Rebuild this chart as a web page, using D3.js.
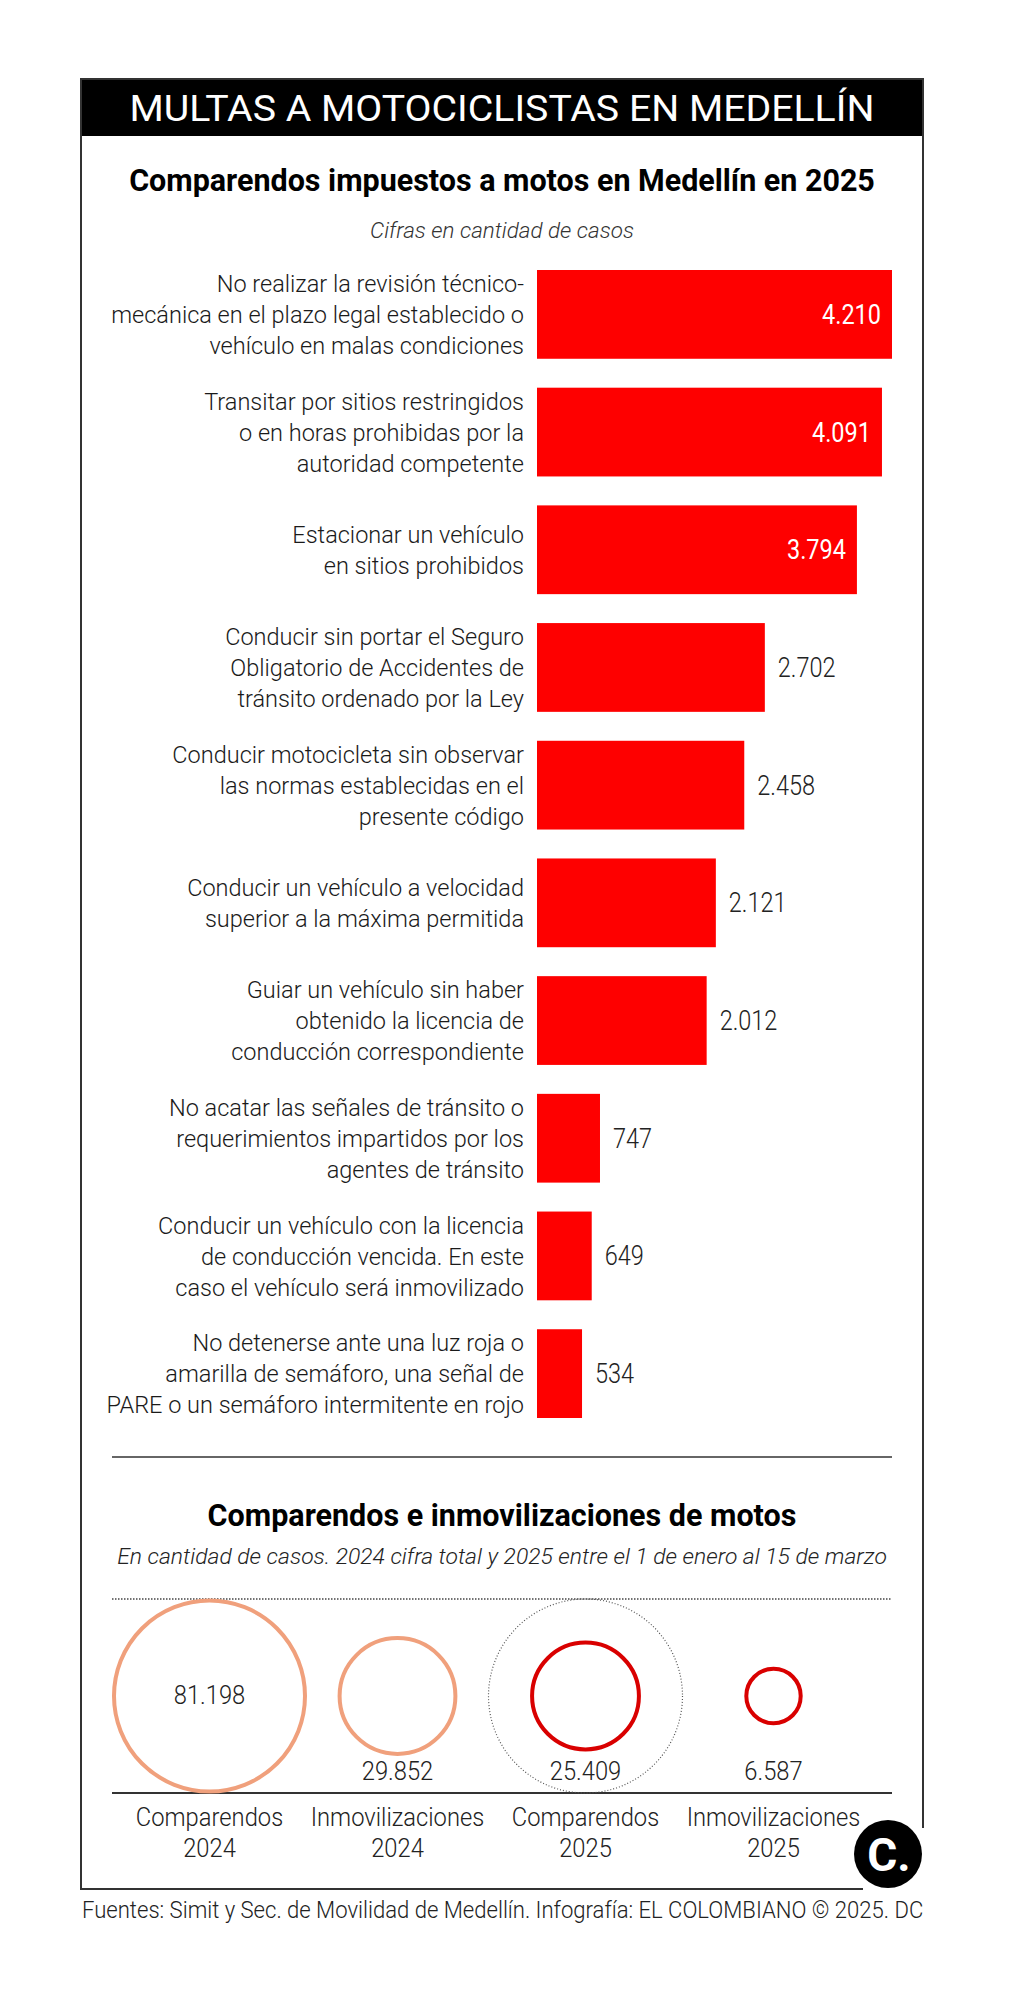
<!DOCTYPE html>
<html>
<head>
<meta charset="utf-8">
<script src="https://cdn.jsdelivr.net/npm/d3@7"></script>
<style>
  html, body { margin: 0; padding: 0; background: #fff; }
  svg { display: block; }
  text { font-family: Roboto, "Noto Sans", sans-serif; }
</style>
</head>
<body>
<script>
// ---------- DATA ----------
const categories = [
  ["No realizar la revisión técnico-", "mecánica en el plazo legal establecido o", "vehículo en malas condiciones"],
  ["Transitar por sitios restringidos", "o en horas prohibidas por la", "autoridad competente"],
  ["Estacionar un vehículo", "en sitios prohibidos"],
  ["Conducir sin portar el Seguro", "Obligatorio de Accidentes de", "tránsito ordenado por la Ley"],
  ["Conducir motocicleta sin observar", "las normas establecidas en el", "presente código"],
  ["Conducir un vehículo a velocidad", "superior a la máxima permitida"],
  ["Guiar un vehículo sin haber", "obtenido la licencia de", "conducción correspondiente"],
  ["No acatar las señales de tránsito o", "requerimientos impartidos por los", "agentes de tránsito"],
  ["Conducir un vehículo con la licencia", "de conducción vencida. En este", "caso el vehículo será inmovilizado"],
  ["No detenerse ante una luz roja o", "amarilla de semáforo, una señal de", "PARE o un semáforo intermitente en rojo"]
];
const values = [4210, 4091, 3794, 2702, 2458, 2121, 2012, 747, 649, 534];

const circleLabels = [["Comparendos", "2024"], ["Inmovilizaciones", "2024"], ["Comparendos", "2025"], ["Inmovilizaciones", "2025"]];
const circleValues = [81198, 29852, 25409, 6587];
const circleYears = ["2024", "2024", "2025", "2025"];

const headerText = "MULTAS A MOTOCICLISTAS EN MEDELLÍN";
const title1 = "Comparendos impuestos a motos en Medellín en 2025";
const subtitle1 = "Cifras en cantidad de casos";
const title2 = "Comparendos e inmovilizaciones de motos";
const subtitle2 = "En cantidad de casos. 2024 cifra total y 2025 entre el 1 de enero al 15 de marzo";
const footerText = "Fuentes: Simit y Sec. de Movilidad de Medellín. Infografía: EL COLOMBIANO © 2025. DC";

// ---------- SETUP ----------
const W = 1010, H = 2000;
const svg = d3.select("body").append("svg").attr("width", W).attr("height", H);

const loc = d3.formatLocale({ decimal: ",", thousands: ".", grouping: [3], currency: ["$", ""] });
const fmt = loc.format(",d");

// text helper: places text, and horizontally fits it to a target width (condensed type)
function txt(g, s, x, y, o) {
  const t = g.append("text")
    .attr("text-anchor", o.anchor || "middle")
    .attr("font-size", o.size)
    .attr("font-weight", o.weight || 300)
    .attr("font-style", o.italic ? "italic" : "normal")
    .attr("fill", o.fill || "#222")
    .text(s);
  let sx = o.sx || 1;
  if (o.width) {
    const L = t.node().getComputedTextLength();
    sx = o.width / L;
  }
  t.attr("transform", `translate(${x},${y}) scale(${sx},1)`);
  return t;
}

// ---------- FRAME ----------
const frame = { l: 81, t: 79, r: 923, b: 1889 };
svg.append("rect").attr("x", frame.l).attr("y", frame.t)
  .attr("width", frame.r - frame.l).attr("height", 57).attr("fill", "#000");
svg.append("path")
  .attr("d", `M${frame.r},1828 V${frame.t} H${frame.l} V${frame.b} H863`)
  .attr("fill", "none").attr("stroke", "#333").attr("stroke-width", 2);

const cx = (frame.l + frame.r) / 2;
txt(svg, headerText, cx, 121, { size: 37, weight: 400, fill: "#fff", width: 745 });
txt(svg, title1, cx, 191, { size: 32, weight: 700, fill: "#000", width: 746 });
txt(svg, subtitle1, cx, 238, { size: 22, weight: 300, italic: true, fill: "#333", width: 264 });

// ---------- BAR CHART ----------
const barLeft = 537;
const x = d3.scaleLinear().domain([0, d3.max(values)]).range([0, 355]);
const y = d3.scaleBand().domain(d3.range(values.length)).range([270, 1418]).paddingInner(0.2458).paddingOuter(0);

const bars = svg.append("g").attr("transform", `translate(${barLeft},0)`);
bars.selectAll("rect").data(values).join("rect")
  .attr("x", 0)
  .attr("y", (d, i) => y(i))
  .attr("width", d => x(d))
  .attr("height", y.bandwidth())
  .attr("fill", "#fe0000");

const labelSx = 0.96;
const lineH = 31;
categories.forEach((lines, i) => {
  const c = y(i) + y.bandwidth() / 2;
  const n = lines.length;
  lines.forEach((ln, j) => {
    const by = c + (j - (n - 1) / 2) * lineH + 8.7;
    txt(svg, ln, 524, by, { size: 24.5, weight: 300, anchor: "end", fill: "#1a1a1a", sx: labelSx });
  });
});

values.forEach((v, i) => {
  const c = y(i) + y.bandwidth() / 2;
  const inside = x(v) > 300;
  txt(bars, fmt(v), inside ? x(v) - 11 : x(v) + 13, c + 9.5, {
    size: 27, weight: inside ? 400 : 300, anchor: inside ? "end" : "start",
    fill: inside ? "#fff" : "#222", sx: 0.87
  });
});

// ---------- SECOND PART ----------
svg.append("line").attr("x1", 112).attr("x2", 892).attr("y1", 1457).attr("y2", 1457)
  .attr("stroke", "#333").attr("stroke-width", 1.5);
txt(svg, title2, cx, 1526, { size: 32, weight: 700, fill: "#000", width: 589 });
txt(svg, subtitle2, cx, 1564, { size: 22, weight: 300, italic: true, fill: "#222", width: 770 });

svg.append("line").attr("x1", 112).attr("x2", 892).attr("y1", 1599).attr("y2", 1599)
  .attr("stroke", "#444").attr("stroke-width", 1.5).attr("stroke-dasharray", "1.5,1.5");
svg.append("line").attr("x1", 112).attr("x2", 892).attr("y1", 1793).attr("y2", 1793)
  .attr("stroke", "#333").attr("stroke-width", 2);

const cxScale = d3.scalePoint().domain(d3.range(circleValues.length)).range([209.5, 773.5]);
const r = d3.scaleSqrt().domain([0, d3.max(circleValues)]).range([0, 95.5]);
const color = d3.scaleOrdinal().domain(["2024", "2025"]).range(["#f0a07c", "#d90000"]);
const cy = 1696;

// reference dotted circle (2024 comparendos size) around 2025 comparendos
svg.append("circle").attr("cx", cxScale(2)).attr("cy", cy).attr("r", r(circleValues[0]) + 1.5)
  .attr("fill", "none").attr("stroke", "#555").attr("stroke-width", 1.2).attr("stroke-dasharray", "1,2");

svg.selectAll("circle.val").data(circleValues).join("circle").attr("class", "val")
  .attr("cx", (d, i) => cxScale(i)).attr("cy", cy).attr("r", d => r(d))
  .attr("fill", "none").attr("stroke", (d, i) => color(circleYears[i])).attr("stroke-width", 4);

circleValues.forEach((v, i) => {
  const big = r(v) > 80;
  txt(svg, fmt(v), cxScale(i), big ? cy + 8 : 1780, { size: 25, weight: 300, fill: "#222", sx: 0.95 });
  circleLabels[i].forEach((ln, j) => {
    txt(svg, ln, cxScale(i), 1826 + j * 31, { size: 25, weight: 300, fill: "#222", sx: 0.95 });
  });
});

// logo
svg.append("circle").attr("cx", 888).attr("cy", 1854).attr("r", 34).attr("fill", "#000");
svg.append("text").attr("x", 889).attr("y", 1871).attr("text-anchor", "middle")
  .attr("font-family", "'DejaVu Serif', 'Liberation Serif', serif").attr("font-weight", 700)
  .attr("font-size", 46).attr("fill", "#fff").text("C.");

// footer
txt(svg, footerText, 82, 1918, { size: 24, weight: 300, anchor: "start", fill: "#222", width: 842 });
</script>
</body>
</html>
